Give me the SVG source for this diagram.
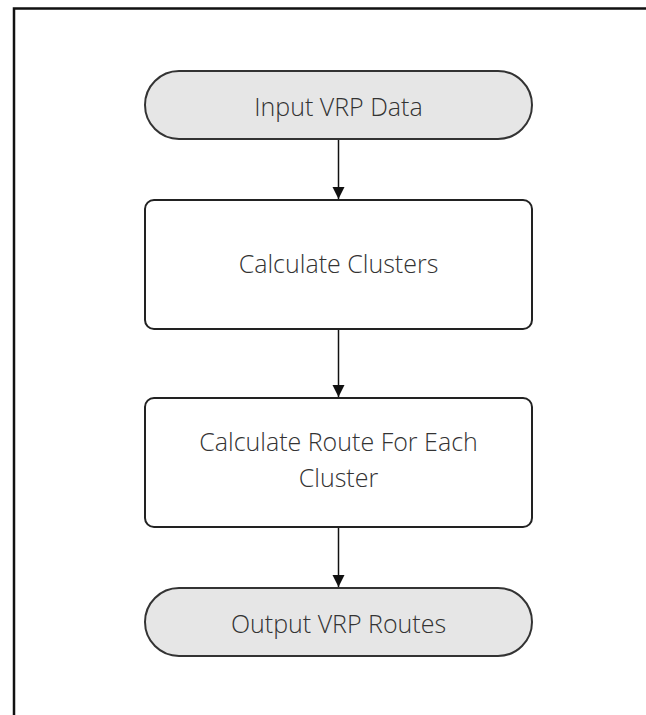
<svg xmlns="http://www.w3.org/2000/svg" width="646" height="715" viewBox="0 0 646 715">
  <defs>
    <marker id="arrow" markerWidth="12" markerHeight="18" refX="12" refY="9" orient="auto" markerUnits="userSpaceOnUse">
      <path d="M0,3 L12,9 L0,15 Z" fill="#111"/>
    </marker>
  </defs>
  <style>
    .term { fill: #e6e6e6; stroke: #333; stroke-width: 2; }
    .proc { fill: #fff; stroke: #222; stroke-width: 2; }
    .label { font-family: "Open Sans", "Noto Sans", sans-serif; font-size: 25px; font-weight: 300; fill: #333; text-anchor: middle; }
    .edge { stroke: #111; stroke-width: 1.5; fill: none; marker-end: url(#arrow); }
  </style>
  <rect width="646" height="715" fill="#fff"/>
  <!-- page frame: top and left rules only -->
  <path d="M14,715 L14,8.5 L646,8.5" fill="none" stroke="#111" stroke-width="2.5"/>

  <g id="input">
    <rect class="term" x="145" y="71" width="387" height="68" rx="34" ry="34"/>
    <text class="label" x="338.5" y="116">Input VRP Data</text>
  </g>
  <g id="clusters">
    <rect class="proc" x="145" y="200" width="387" height="129" rx="9" ry="9"/>
    <text class="label" x="338.5" y="273">Calculate Clusters</text>
  </g>
  <g id="routes">
    <rect class="proc" x="145" y="398" width="387" height="129" rx="9" ry="9"/>
    <text class="label" x="338.5" y="451">Calculate Route For Each</text>
    <text class="label" x="338.5" y="487">Cluster</text>
  </g>
  <g id="output">
    <rect class="term" x="145" y="588" width="387" height="68" rx="34" ry="34"/>
    <text class="label" x="338.5" y="633">Output VRP Routes</text>
  </g>

  <g id="connectors">
    <line class="edge" x1="338.5" y1="140" x2="338.5" y2="199"/>
    <line class="edge" x1="338.5" y1="330" x2="338.5" y2="397"/>
    <line class="edge" x1="338.5" y1="528" x2="338.5" y2="587"/>
  </g>
</svg>
